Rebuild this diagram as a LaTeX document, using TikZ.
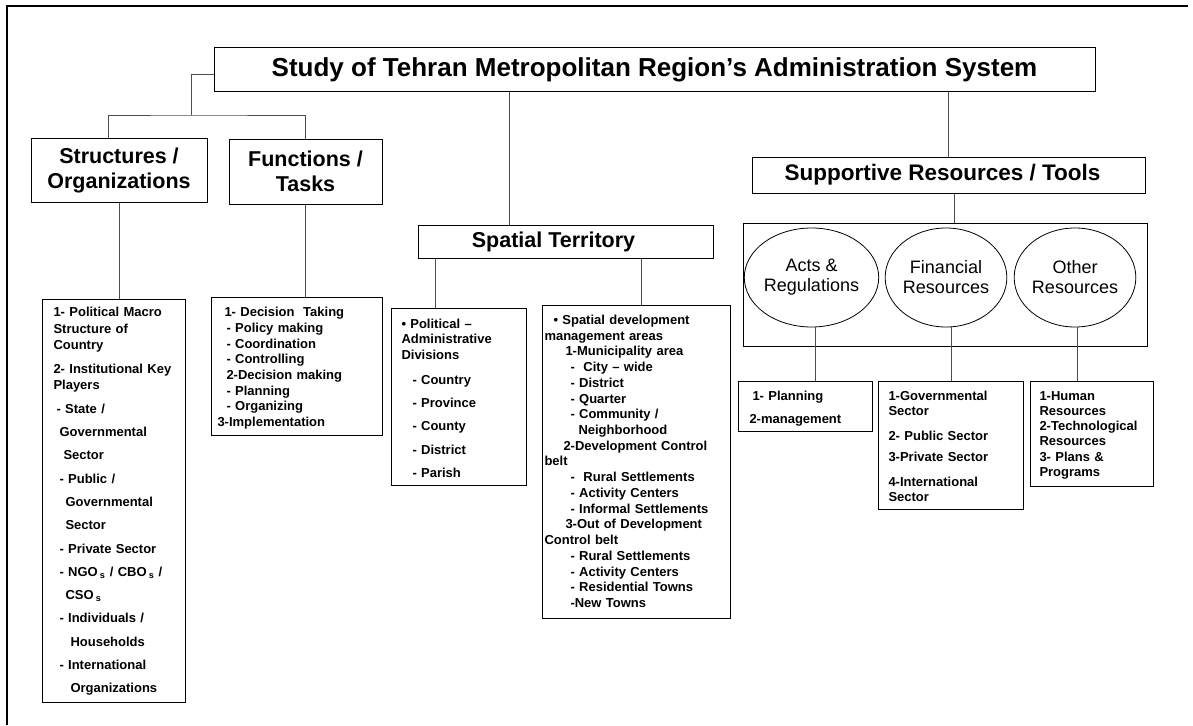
\documentclass[tikz,border=0pt]{standalone}
\usepackage{fontspec}
\setmainfont{Liberation Sans}
\usetikzlibrary{shapes.geometric,calc,positioning}
\newcommand{\listfont}{\fontsize{13}{15.7}\selectfont\bfseries}
\tikzset{
  headbox/.style={draw,line width=1,inner sep=0,align=center,font=\fontsize{21.5}{25}\selectfont\bfseries},
  listbox/.style={draw,line width=1,anchor=north west,align=left,inner ysep=0,font=\listfont},
  resell/.style={ellipse,draw,line width=0.8,inner sep=0,minimum height=99,align=center,font=\fontsize{18}{20}\selectfont},
  link/.style={draw=black!70,line width=1}
}
\begin{document}
\begin{tikzpicture}[x=1pt,y=-1pt]
		\useasboundingbox (0,0) rectangle (1193,725);
		\draw[line width=2.2] (7,725) -- (7,6) -- (1188,6);

		\node[headbox,minimum width=881,minimum height=43,font=\fontsize{26}{30}\selectfont\bfseries] (title) at (654.5,69.5) {Study of Tehran Metropolitan Region's Administration System};

		\node[headbox,minimum width=176,minimum height=64] (strhead) at (119,170) {Structures /\\Organizations};
		\node[headbox,minimum width=153,minimum height=65] (funhead) at (305.5,171.5) {Functions /\\Tasks};
		\node[headbox,minimum width=295,minimum height=33] (sphead) at (565.5,241.5) {Spatial Territory\hspace*{24pt}};
		\node[headbox,minimum width=393,minimum height=36,font=\fontsize{22.5}{26}\selectfont\bfseries] (suphead) at (948.5,175) {Supportive Resources / Tools\hspace*{12pt}};

		% resources frame and the three ellipses
		\node[draw,line width=1,inner sep=0,minimum width=404,minimum height=123] (resbox) at (945,284.5) {};
		\node[resell,minimum width=117] (acts) at (811.5,277.5) {Acts \&\\Regulations};
		\node[resell,minimum width=118] (fin) at (946,277.5) {Financial\\Resources};
		\node[resell,minimum width=115] (other) at (1075,277.5) {Other\\Resources};

		% lists
		\node[listbox,text width=121,inner xsep=11,text height=17,text depth=386,font=\fontsize{13}{16.7}\selectfont\bfseries] (strlist) at (42,299) {1- Political Macro\\Structure of\\Country\\[6.6pt]
			2- Institutional Key\\Players\\[6.6pt]
			\hspace*{3pt}- State /\\[6.6pt]\hspace*{6pt}Governmental\\[6.6pt]\hspace*{10pt}Sector\\[6.6pt]
			\hspace*{6pt}- Public /\\[6.6pt]\hspace*{12pt}Governmental\\[6.6pt]\hspace*{12pt}Sector\\[6.6pt]
			\hspace*{6pt}- Private Sector\\[6.6pt]
			\hspace*{6pt}- NGO\,\textsubscript{s} / CBO\,\textsubscript{s} /\\[6.6pt]\hspace*{12pt}CSO\,\textsubscript{s}\\[6.6pt]
			\hspace*{6pt}- Individuals /\\[6.6pt]\hspace*{17pt}Households\\[6.6pt]
			\hspace*{6pt}- International\\[6.6pt]\hspace*{17pt}Organizations};

		\node[listbox,text width=159,inner xsep=6,text height=19.2,text depth=118.8] (funlist) at (211,297) {\hspace*{7pt}1- Decision~ Taking\\
			\hspace*{9pt}- Policy making\\\hspace*{9pt}- Coordination\\\hspace*{9pt}- Controlling\\
			\hspace*{9pt}2-Decision making\\\hspace*{9pt}- Planning\\\hspace*{9pt}- Organizing\\
			3-Implementation};

		\node[listbox,text width=115,inner xsep=10,text height=19.8,text depth=157.2,font=\fontsize{13}{15.5}\selectfont\bfseries] (pollist) at (391,308) {\textbullet{} Political --\\Administrative\\Divisions\\[9.5pt]
			\hspace*{11pt}- Country\\[7.8pt]\hspace*{11pt}- Province\\[7.8pt]\hspace*{11pt}- County\\[7.8pt]
			\hspace*{11pt}- District\\[7.8pt]\hspace*{11pt}- Parish};

		\node[listbox,text width=184,inner xsep=2,text height=18.8,text depth=294.2,font=\fontsize{13}{15.74}\selectfont\bfseries] (spdevlist) at (542,305) {\hspace*{9pt}\textbullet{} Spatial development\\management areas\\
			\hspace*{21pt}1-Municipality area\\\hspace*{26pt}-~ City -- wide\\\hspace*{26pt}- District\\
			\hspace*{26pt}- Quarter\\\hspace*{26pt}- Community /\\\hspace*{34pt}Neighborhood\\
			\hspace*{19pt}2-Development Control\\belt\\
			\hspace*{26pt}-~ Rural Settlements\\\hspace*{26pt}- Activity Centers\\\hspace*{26pt}- Informal Settlements\\
			\hspace*{21pt}3-Out of Development\\Control belt\\
			\hspace*{26pt}- Rural Settlements\\\hspace*{26pt}- Activity Centers\\\hspace*{26pt}- Residential Towns\\
			\hspace*{26pt}-New Towns};

		\node[listbox,text width=112,inner xsep=11,text height=18.5,text depth=31.5,font=\fontsize{13}{23.3}\selectfont\bfseries] (planlist) at (738,381) {\hspace*{3pt}1- Planning\\2-management};

		\node[listbox,text width=125,inner xsep=10,text height=18.5,text depth=109.5,font=\fontsize{13}{15}\selectfont\bfseries] (govlist) at (878,381) {1-Governmental\\Sector\\[10pt]
			2- Public Sector\\[6.7pt]3-Private Sector\\[10pt]4-International\\Sector};

		\node[listbox,text width=105,inner xsep=9,text height=18.5,text depth=86.5,font=\fontsize{13}{15.3}\selectfont\bfseries] (humlist) at (1030,381) {1-Human\\Resources\\2-Technological\\Resources\\3- Plans \&\\Programs};

		% connectors
		\coordinate (lj) at (191,115);
		\draw[link] ([yshift=-4.5]title.west) -| (lj);
		\draw[link] ([xshift=-11]strhead.north) |- (lj) -| (funhead.north);
		\draw[link] (strhead.south) -- (strhead.south |- strlist.north);
		\draw[link] (funhead.south) -- (funhead.south |- funlist.north);

		\draw[link] ($(sphead.north)+(-56.5,0)$) coordinate (spc) -- (spc |- title.south);
		\draw[link] ($(pollist.north)+(-23.5,0)$) coordinate (pc) -- (pc |- sphead.south);
		\draw[link] ($(spdevlist.north)+(5,0)$) coordinate (sdc) -- (sdc |- sphead.south);

		\draw[link] (suphead.north) -- (suphead.north |- title.south);
		\draw[link] ($(suphead.south)+(6,0)$) coordinate (sc) -- (sc |- resbox.north);

		\draw[link] ($(acts.south)+(3.5,0)$) coordinate (ac) -- (ac |- planlist.north);
		\draw[link] (govlist.north) -- (govlist.north |- fin.south);
		\draw[link] ($(other.south)+(2,0)$) coordinate (oc) -- (oc |- humlist.north);

\end{tikzpicture}
\end{document}
